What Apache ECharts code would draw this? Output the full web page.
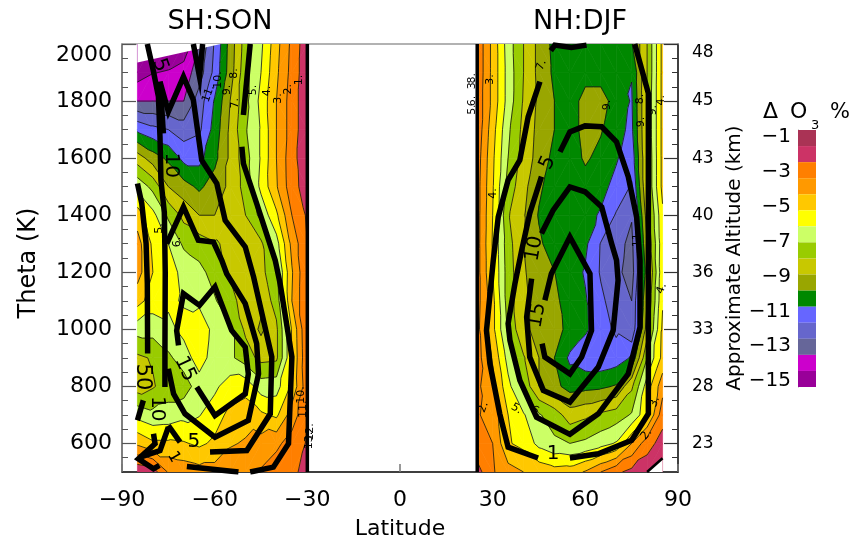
<!DOCTYPE html>
<html><head><meta charset="utf-8">
<style>html,body{margin:0;padding:0;background:#fff}#c{width:851px;height:541px}</style>
<script src="https://cdn.jsdelivr.net/npm/echarts@6/dist/echarts.min.js"></script>
</head><body><div id="c"></div>
<script>
const thetaLevels=[2000,1900,1800,1700,1600,1500,1400,1300,1200,1100,1000,900,800,700,600,500];
const shLats=[-85,-80,-75,-70,-65,-60,-55,-50,-45,-40,-35,-30];
const nhLats=[25,30,35,40,45,50,55,60,65,70,75,80,85];
const shDelta=[
[-15,-15,-15,-14.8,-13,-10.9,-8.6,-6.5,-5.2,-3.35,-1.75,-0.3],
[-14.5,-14.05,-13.9,-13.5,-12.5,-10.7,-8.5,-6.3,-5,-3.2,-1.65,-0.3],
[-13,-13,-13,-13,-11.5,-9.9,-8,-6.3,-4.7,-3,-1.5,-0.3],
[-10.2,-10.7,-11,-11.5,-11.2,-9.6,-7.8,-6.1,-4.9,-3,-1.5,-0.3],
[-7.5,-8.5,-9.2,-10.3,-10.3,-9.3,-7.8,-6.4,-4.9,-3,-1.35,-0.3],
[-5.3,-6.3,-8,-8.6,-9.2,-8.5,-7.8,-6.6,-4.75,-3.1,-1.4,-0.5],
[-3.5,-4.7,-6.2,-7.3,-8,-8,-7.6,-7,-5.7,-4.2,-2,-0.85],
[-2.6,-4.2,-5,-6.2,-6.5,-6.9,-7.2,-7.7,-7.2,-5.4,-2.7,-1],
[-2.6,-4,-4.7,-5.2,-5.7,-6.4,-7.1,-7.6,-7.3,-6.2,-3.1,-1],
[-3.6,-4.5,-4.8,-5.1,-5.2,-5.9,-6.7,-7.4,-7.7,-6.6,-3,-1],
[-5.6,-5.6,-5.3,-4.7,-4.4,-5.3,-5.8,-7.2,-8.2,-7.2,-3.9,-1],
[-7.2,-6.9,-6.2,-5.5,-4.5,-5.5,-5.8,-6.5,-7.3,-7.2,-4,-1.1],
[-7.5,-7.1,-6.5,-6.5,-5.5,-5.2,-4.5,-4.4,-5.5,-5.4,-3.8,-1.3],
[-5.3,-5.7,-5.6,-5.3,-5.05,-4.5,-3.7,-3.4,-3.8,-4.2,-2.5,-1.2],
[-3.2,-3.8,-3.8,-3.9,-4.2,-3.8,-3.1,-2.9,-2.6,-2.2,-1.6,-0.9],
[-0.2,-0.5,-2.1,-2.4,-2.6,-2.6,-2.4,-2.1,-1.9,-1.5,-1.2,-0.7]];
const nhDelta=[
[-1.2,-3.3,-5.5,-7,-8.3,-9.3,-9.6,-9.6,-9.6,-9.6,-9.1,-7,-3.7],
[-1.2,-3.3,-5.4,-7,-8.3,-9.2,-9.6,-9.3,-9.3,-9.7,-9.95,-7,-3.7],
[-1.3,-3.3,-5.4,-7.1,-8.2,-9,-9.4,-8.7,-8.7,-9.3,-10.1,-6.9,-3.7],
[-1.3,-3.6,-5.8,-7.3,-8.3,-9,-9.4,-8.7,-8.9,-9.7,-10.2,-6.9,-3.7],
[-1.5,-3.8,-6,-7.4,-8.4,-9.3,-9.5,-8.85,-9.3,-9.9,-10.6,-7,-3.7],
[-1.6,-3.9,-6.4,-7.7,-8.8,-9.6,-9.6,-9.4,-9.7,-10.3,-11.1,-7,-3.7],
[-1.6,-4,-6.9,-7.9,-9.1,-9.6,-9.7,-9.7,-10.1,-11.1,-11.9,-7.5,-4.2],
[-1.6,-4.1,-6.6,-8,-8.8,-9.6,-9.7,-9.8,-11.05,-11.6,-12.3,-8,-4.3],
[-1.6,-4,-6.5,-7.9,-8.5,-8.98,-9.5,-10.1,-11.1,-11.7,-12.5,-8.5,-4.2],
[-1.6,-3.7,-6.5,-7.8,-8.4,-8.8,-9.4,-9.9,-10.8,-11.5,-12,-8,-4.1],
[-1.7,-3.7,-6.2,-7.8,-8.3,-8.75,-9.2,-9.85,-10.5,-11.2,-11.9,-7.5,-3.8],
[-1.6,-3.1,-5.4,-6.9,-8,-9,-10.2,-10.6,-10.7,-10.5,-9.9,-6,-3.7],
[-1.8,-2.7,-4.7,-6.3,-8,-8.7,-9.4,-9.3,-9.2,-8.9,-7.2,-4.5,-2.4],
[-1.9,-2.4,-4,-4.9,-5.9,-6.5,-7.5,-7.2,-6.8,-6.5,-5.9,-4.2,-1.4],
[-1.7,-2,-3.9,-4.3,-5.3,-5.8,-6,-5.8,-5.4,-4.9,-3,-1.4,-0.6],
[-0.6,-1.9,-2.6,-3,-3.3,-3.6,-3.5,-2.9,-2,-1.2,-0.7,-0.4,-0.3]];
const bandColors=['#AA3355','#CC3366','#FF7F00','#FF9900','#FFC800','#FFFF00','#CCFF66','#99CC00','#C8C800','#99A600','#008800','#6666FF','#6666CC','#666699','#CC00CC','#990099'];
const bandEdges=[3,0,-1,-2,-3,-4,-5,-6,-7,-8,-9,-10,-11,-12,-13,-14,-30];
const contourLevels=[-1,-2,-3,-4,-5,-6,-7,-8,-9,-10,-11,-12,-13,-14];
const xTicks=[-90,-60,-30,0,30,60,90];
const thetaTicks=[600,800,1000,1200,1400,1600,1800,2000];
const thetaMinor=[550,600,650,700,750,800,850,900,950,1000,1050,1100,1150,1200,1250,1300,1350,1400,1450,1500,1550,1600,1650,1700,1750,1800,1850,1900,1950];
const altLabels=['23','28','33','36','40','43','45','48'];
const barLabels=[-1,-3,-5,-7,-9,-11,-13,-15];
const maskSH=[[-85,2000],[-85,1935],[-58,2000]];
const maskNH=[[80,500],[85,548],[85,500]];
const edgeLines=[[[-30,500],[-30,2000]],[[25,500],[25,2000]]];
const diagLine=[[80,500],[85,548]];
const shThick=[
[[-77.7,1868],[-75,1763],[-70.1,1885],[-66.9,1804],[-64.2,1593],[-59.3,1511],[-56.6,1382],[-50.1,1289],[-47.4,1184],[-41.5,903],[-42,704],[-49.6,575],[-61.5,570]],
[[-75.5,1300],[-70.1,1429],[-65.3,1312],[-60.4,1306],[-57.7,1242],[-56.1,1195],[-50.1,1090],[-46.4,950],[-45.8,844],[-49.1,681],[-59.9,622],[-69.6,704],[-73.3,774],[-75,862]],
[[-71.7,944],[-72.3,996],[-70.1,1125],[-64.9,1084],[-59.9,1149],[-54.5,996],[-50.1,938],[-49.1,844],[-50.1,774],[-59.9,698],[-65.8,798]],
[[-48.5,2000],[-50.7,1751]],
[[-51.2,1640],[-50.7,1581],[-46.4,1441],[-40.4,1242],[-38.8,1160],[-35,903],[-36.1,599],[-41,517],[-48.5,500]],
[[-52.3,500],[-69,519]],
[[-81.8,2000],[-79.8,1903],[-78.2,1815],[-77.7,1675],[-77.4,1523],[-76.3,1410],[-76,1200],[-76.1,926],[-76.1,798]],
[[-77.7,1868],[-76.6,1687]],
[[-85,1511],[-83.6,1441],[-82.2,1301],[-81.8,1160],[-81.7,915]],
[[-83.1,751],[-85,681]],
[[-75,663],[-71.2,605]],
[[-79.8,634],[-79.3,599],[-84.7,546],[-79.8,511],[-77.9,523]],
[[-75,657],[-77.7,575],[-84.1,552]],
[[-66.9,2000],[-64.9,1885],[-63.9,2000]]];
const nhThick=[
[[45.3,1868],[41.5,1745],[38.8,1593],[35,1523],[31.8,1394],[30.2,1242],[28,996],[29.1,880],[32.3,704],[35,587],[44.7,549]],
[[55,549],[64.2,564],[75,611],[80.4,704],[80.4,1277],[80.4,1827],[76,2000]],
[[51.8,1622],[55,1692],[59.9,1713],[65.3,1710],[70.1,1657],[73.9,1535],[76.6,1394],[77.7,1242],[77.7,1008],[73.9,844],[64.2,704],[55,632],[44.2,692],[38.8,821],[35.6,961],[35,1020],[37.2,1160],[39.4,1277],[42,1406],[45.8,1535]],
[[45.8,1336],[49.6,1418],[55,1499],[59.9,1482],[65.3,1429],[68.5,1301],[70.1,1242],[70.6,1172],[69,996],[64.2,868],[55,745],[46.4,786],[42,903],[41,1043],[42.6,1178]],
[[46.9,1102],[49,1195],[55,1324],[61.5,1195],[62,996],[58.8,903],[55,844],[46.9,903],[46,950]],
[[48.8,1977],[50.1,1996],[55.5,1988],[60.4,1996]]];
const contourText=[
[-32.6,1874,'1.',90,11],[-36.1,1841,'2.',90,11],[-39.4,1809,'3.',90,11],[-43,1835,'4.',90,11],[-47.5,1839,'5.',90,11],
[-53.4,1792,'7.',90,11],[-53.7,1897,'8.',90,11],[-56.1,1839,'9.',90,11],[-58.8,1874,'10.',90,11],[-62,1826,'11.',70,11],
[-72.3,1306,'6.',90,11],[-77.9,1353,'5.',90,11],[-32,770,'10.',90,11],[-31.5,720,'11.',90,11],[-29.2,640,'12.',90,11],[-29.4,610,'13.',90,11],
[-77.7,1926,'5',-70,20],[-74.2,1575,'10',-90,20],[-69.6,862,'15',-65,20],[-66.7,605,'5',0,20],[-83.3,833,'50',-90,21],[-78.7,722,'10',-90,20],[-73.3,552,'1',-60,16],
[23.5,1880,'8.',90,11],[23.5,1860,'3.',90,11],[23.5,1800,'6.',90,11],[23.5,1770,'5.',90,11],[29.1,1876,'3.',90,11],[30.2,1476,'4.',90,11],
[45.8,1926,'7.',70,11],[47.8,1584,'5',65,20],[67.2,1786,'9.',90,11],[77.7,1807,'8.',90,11],[78.2,1727,'9.',90,11],[82,1768,'9.',90,11],[84.7,1803,'4.',90,11],
[84.7,1143,'4.',70,11],[43.5,1283,'10',80,20],[44.5,1049,'15',80,20],[76.7,1312,'11',90,11],[37.7,722,'5.',-30,11],[44.2,712,'6.',-30,11],[27,727,'2.',70,11],[82.5,746,'3.',70,11],[79.8,632,'2.',50,11],[49.6,564,'1',0,20]];

// split every grid cell into triangles, clip them to each colour band and trace each contour level
function contourPanel(lats,rows){
  const polys=[],segs=[];
  function addTri(t){
    for(let b=0;b<bandColors.length;b++){
      const hi=bandEdges[b],lo=bandEdges[b+1];
      let p=t;
      p=clip(p,hi,-1);p=clip(p,lo,1);
      if(p.length>2)polys.push({pts:p.map(q=>[q[0],q[1]]),color:bandColors[b]});
    }
    contourLevels.forEach(l0=>{
      const l=l0+1e-7,pts=[];
      for(let i=0;i<3;i++){
        const a=t[i],c=t[(i+1)%3];
        if((a[2]-l)*(c[2]-l)<0){
          const f=(l-a[2])/(c[2]-a[2]);
          pts.push([a[0]+f*(c[0]-a[0]),a[1]+f*(c[1]-a[1])]);
        }
      }
      if(pts.length===2)segs.push(pts);
    });
  }
  function clip(p,lim,sign){
    const out=[];
    for(let i=0;i<p.length;i++){
      const a=p[i],c=p[(i+1)%p.length];
      const ia=sign*(a[2]-lim)>=0,ic=sign*(c[2]-lim)>=0;
      if(ia)out.push(a);
      if(ia!==ic){
        const f=(lim-a[2])/(c[2]-a[2]);
        out.push([a[0]+f*(c[0]-a[0]),a[1]+f*(c[1]-a[1]),lim]);
      }
    }
    return out;
  }
  for(let r=0;r<thetaLevels.length-1;r++)for(let c=0;c<lats.length-1;c++){
    const A=[lats[c],thetaLevels[r],rows[r][c]],B=[lats[c+1],thetaLevels[r],rows[r][c+1]],
          C=[lats[c+1],thetaLevels[r+1],rows[r+1][c+1]],D=[lats[c],thetaLevels[r+1],rows[r+1][c]];
    if(Math.abs(A[2]-C[2])<=Math.abs(B[2]-D[2])){addTri([A,B,C]);addTri([A,C,D]);}
    else{addTri([A,B,D]);addTri([B,C,D]);}
  }
  return {polys,segs};
}
const sh=contourPanel(shLats,shDelta),nh=contourPanel(nhLats,nhDelta);
const polys=sh.polys.concat(nh.polys),segs=sh.segs.concat(nh.segs);
const FONT='"DejaVu Sans"';
const BLACK='#000';
function thickSeries(p,w){return {type:'line',data:p,symbol:'none',showSymbol:false,silent:true,animation:false,z:6,
  lineStyle:{color:BLACK,width:w,join:'miter',cap:'butt'},xAxisIndex:0,yAxisIndex:0};}
function polySeries(p){return {type:'custom',silent:true,animation:false,z:5,data:[0],xAxisIndex:0,yAxisIndex:0,
  renderItem:(pa,api)=>({type:'polygon',shape:{points:p.map(q=>api.coord(q))},style:{fill:'#fff'}})};}
const minus=v=>String(v).replace('-','\u2212');
const ttl=(text,left,top,size,align)=>({text,left,top,padding:0,textAlign:align,textStyle:{fontFamily:FONT,fontSize:size,fontWeight:'normal',color:BLACK}});
const option={
  animation:false,backgroundColor:'#fff',
  textStyle:{fontFamily:FONT},
  title:[
    ttl('SH:SON',220,8,27,'center'),ttl('NH:DJF',580,8,27,'center'),
    ttl('\u0394',763,101,22,'left'),ttl('O',790,101,22,'left'),ttl('3',811,119,13,'left'),ttl('%',830,102,21,'left')
  ],
  grid:[{left:122,right:173,top:44,bottom:69,outerBoundsMode:'none'},{left:798,width:18,top:130,height:257,outerBoundsMode:'none'}],
  xAxis:[
    {type:'value',gridIndex:0,min:-90,max:90,interval:30,position:'bottom',
     axisLine:{onZero:false,show:true,lineStyle:{color:BLACK,width:1.5}},
     axisTick:{show:true,inside:true,length:8,lineStyle:{color:'#777',width:1.5},customValues:xTicks},
     splitLine:{show:false},
     axisLabel:{fontSize:22,color:BLACK,margin:17,fontFamily:FONT,customValues:xTicks,formatter:minus,hideOverlap:false},
     name:'Latitude',nameLocation:'middle',nameGap:46,nameTextStyle:{fontSize:22,color:BLACK,fontFamily:FONT}},
    {type:'value',gridIndex:0,min:-90,max:90,position:'top',axisLine:{onZero:false,show:true,lineStyle:{color:'#999',width:1.5}},axisTick:{show:false},axisLabel:{show:false},splitLine:{show:false}},
    {type:'category',gridIndex:1,data:['bar'],axisLine:{show:false},axisTick:{show:false},axisLabel:{show:false}}
  ],
  yAxis:[
    {type:'value',gridIndex:0,min:500,max:2000,position:'left',
     axisLine:{onZero:false,show:true,lineStyle:{color:'#555',width:1.5}},
     axisTick:{show:true,inside:true,length:14,lineStyle:{color:'#555',width:1.2},customValues:thetaTicks},
     splitLine:{show:false},
     axisLabel:{fontSize:22,color:BLACK,margin:10,fontFamily:FONT,customValues:thetaTicks,verticalAlignMaxLabel:'top',formatter:v=>String(v)},
     name:'Theta (K)',nameLocation:'middle',nameGap:81,nameTextStyle:{fontSize:24,color:BLACK,fontFamily:FONT,padding:[0,10,0,0]}},
    {type:'value',gridIndex:0,min:500,max:2000,position:'right',
     axisLine:{onZero:false,show:true,lineStyle:{color:BLACK,width:1.5}},
     axisTick:{show:true,inside:true,length:14,lineStyle:{color:'#333',width:1.2},customValues:thetaTicks},
     splitLine:{show:false},
     axisLabel:{fontSize:17,color:BLACK,margin:14,fontFamily:FONT,customValues:thetaTicks,verticalAlignMaxLabel:'top',
       formatter:v=>altLabels[thetaTicks.indexOf(v)]},
     name:'Approximate Altitude (km)',nameLocation:'middle',nameGap:47,nameRotate:90,nameTextStyle:{fontSize:20,color:BLACK,fontFamily:FONT}},
    {type:'value',gridIndex:0,min:500,max:2000,position:'left',axisLine:{show:false,onZero:false},
     axisTick:{show:true,inside:true,length:6,lineStyle:{color:'#555',width:1},customValues:thetaMinor},
     axisLabel:{show:false},splitLine:{show:false}},
    {type:'value',gridIndex:0,min:500,max:2000,position:'right',axisLine:{show:false,onZero:false},
     axisTick:{show:true,inside:true,length:6,lineStyle:{color:'#333',width:1},customValues:thetaMinor},
     axisLabel:{show:false},splitLine:{show:false}},
    {type:'category',gridIndex:1,inverse:true,data:bandColors.map((c,i)=>i),position:'left',
     axisLine:{show:true,lineStyle:{color:'#999',width:1}},axisTick:{show:false},axisLabel:{show:false}},
    {type:'value',gridIndex:1,min:-15.34,max:-0.6,position:'left',axisLine:{show:false,onZero:false},axisTick:{show:false},splitLine:{show:false},
     axisLabel:{fontSize:20,color:BLACK,margin:7,fontFamily:FONT,customValues:barLabels,formatter:minus}}
  ],
  series:[
    {type:'custom',silent:true,animation:false,z:2,clip:true,xAxisIndex:0,yAxisIndex:0,data:polys.map((p,i)=>[i]),
     renderItem:(pa,api)=>{const p=polys[pa.dataIndex];return {type:'polygon',shape:{points:p.pts.map(q=>api.coord(q))},
       style:{fill:p.color,stroke:p.color,lineWidth:0.7}};}},
    {type:'custom',silent:true,animation:false,z:3,clip:true,xAxisIndex:0,yAxisIndex:0,data:segs.map((p,i)=>[i]),
     renderItem:(pa,api)=>{const s=segs[pa.dataIndex];const a=api.coord(s[0]),b=api.coord(s[1]);
       return {type:'line',shape:{x1:a[0],y1:a[1],x2:b[0],y2:b[1]},style:{stroke:'#111',lineWidth:0.8,fill:null}};}},
    polySeries(maskSH),polySeries(maskNH),
    ...shThick.map(p=>thickSeries(p,5.5)),...nhThick.map(p=>thickSeries(p,5.5)),
    ...edgeLines.map(p=>thickSeries(p,3.5)),thickSeries(diagLine,2.5),
    {type:'scatter',silent:true,animation:false,z:8,xAxisIndex:0,yAxisIndex:0,symbolSize:1,itemStyle:{color:'rgba(0,0,0,0)'},
     data:contourText.map(t=>({value:[t[0],t[1]],label:{show:true,position:'inside',formatter:t[2],rotate:t[3],fontSize:t[4],color:BLACK,fontFamily:FONT,opacity:1}}))},
    {type:'custom',silent:true,animation:false,z:2,xAxisIndex:2,yAxisIndex:4,data:bandColors.map((c,i)=>[0,i]),
     renderItem:(pa,api)=>{const c=api.coord([0,api.value(1)]),s=api.size([1,1]);
       return {type:'rect',shape:{x:c[0]-s[0]/2,y:c[1]-s[1]/2,width:s[0],height:s[1]},style:{fill:bandColors[api.value(1)]}};}},
    {type:'line',data:[],xAxisIndex:2,yAxisIndex:5}
  ]
};
echarts.init(document.getElementById('c'),null,{renderer:'canvas'}).setOption(option);
</script></body></html>
